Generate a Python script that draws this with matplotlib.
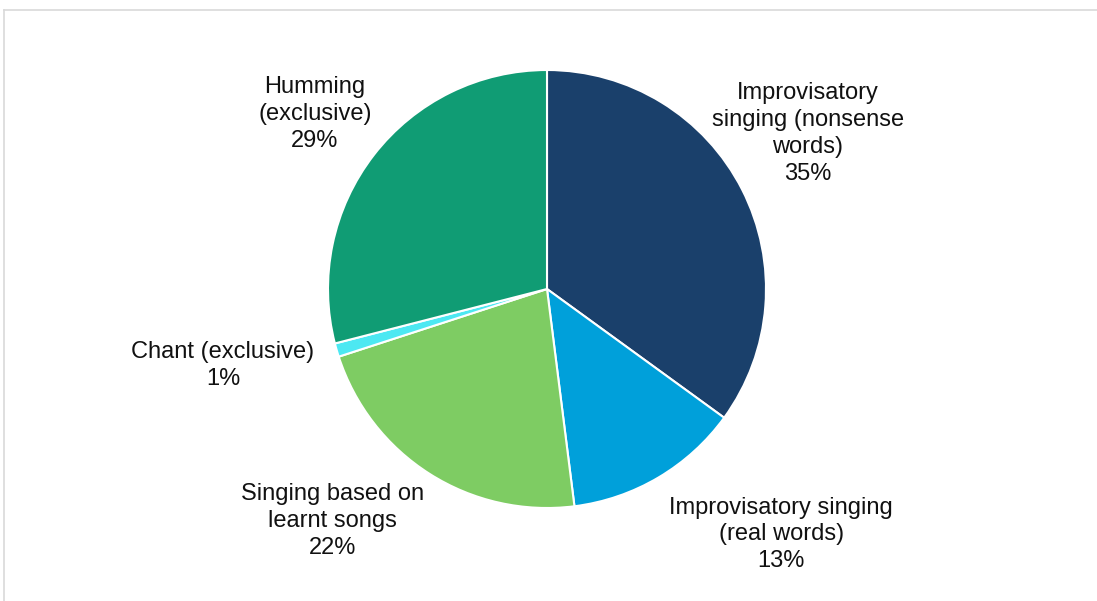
import matplotlib.pyplot as plt
from matplotlib.lines import Line2D

plt.rcParams['font.family'] = ['Liberation Sans', 'DejaVu Sans']

# singing categories, clockwise from 12 o'clock
CATEGORIES = [
    'Improvisatory\nsinging (nonsense\nwords)',
    'Improvisatory singing\n(real words)',
    'Singing based on\nlearnt songs',
    'Chant (exclusive)',
    'Humming\n(exclusive)',
]
SHARES = [35, 13, 22, 1, 29]
COLORS = ['#1A406B', '#00A0DA', '#7ECC63', '#4DE8F2', '#109C74']

# label centres in pie-radius units
LABEL_POS = [(1.19, 0.71), (1.07, -1.12), (-0.98, -1.06), (-1.48, -0.35), (-1.06, 0.80)]

R_PX = 219
CX, CY = 547, 601 - 289

fig = plt.figure(figsize=(10.97, 6.01), dpi=100)
ax = fig.add_axes([0, 0, 1, 1])

wedges, _ = ax.pie(SHARES, colors=COLORS, startangle=90, counterclock=False,
                   radius=1.0, wedgeprops=dict(edgecolor='white', linewidth=1.5))

# pie() resets the limits, so fix the scale afterwards
ax.set_xlim(-CX / R_PX, (1097 - CX) / R_PX)
ax.set_ylim(-CY / R_PX, (601 - CY) / R_PX)
ax.set_aspect('equal')
ax.axis('off')

for name, share, (x, y) in zip(CATEGORIES, SHARES, LABEL_POS):
    ax.text(x, y, f'{name}\n{share}%', ha='center', va='center',
            fontsize=17, color='#111111', linespacing=1.28)

# chart area border (top and left edges)
border = '#D9D9D9'
fig.add_artist(Line2D([4 / 1097, 1], [1 - 10 / 601, 1 - 10 / 601], color=border, lw=1.2))
fig.add_artist(Line2D([4 / 1097, 4 / 1097], [0, 1 - 10 / 601], color=border, lw=1.2))

fig.savefig('out.png', dpi=100, facecolor='white')
